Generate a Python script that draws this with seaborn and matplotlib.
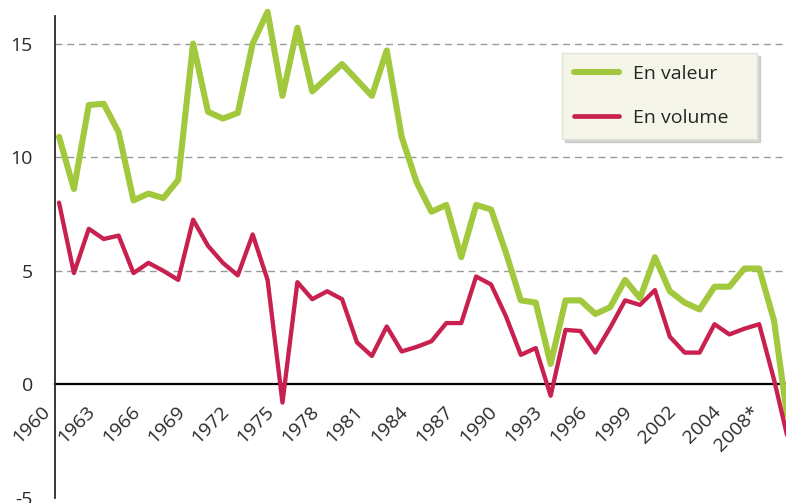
import matplotlib
matplotlib.use("Agg")
import matplotlib.pyplot as plt
import matplotlib.transforms as mtransforms
import seaborn as sns
import pandas as pd

years = list(range(1960, 2010))
valeur = [10.9, 8.6, 12.3, 12.35, 11.1, 8.1, 8.4, 8.2, 9.0, 15.0,
          12.0, 11.7, 11.95, 15.0, 16.4, 12.7, 15.7, 12.9, 13.5, 14.1,
          13.4, 12.7, 14.7, 10.9, 8.9, 7.6, 7.9, 5.6, 7.9, 7.7,
          5.8, 3.7, 3.6, 0.9, 3.7, 3.7, 3.1, 3.4, 4.6, 3.8,
          5.6, 4.1, 3.6, 3.3, 4.3, 4.3, 5.1, 5.1, 2.8, -2.0]
volume = [8.0, 4.9, 6.85, 6.4, 6.55, 4.9, 5.35, 5.0, 4.6, 7.25,
          6.1, 5.35, 4.8, 6.6, 4.6, -0.8, 4.5, 3.75, 4.1, 3.75,
          1.85, 1.25, 2.55, 1.45, 1.65, 1.9, 2.7, 2.7, 4.75, 4.4,
          3.0, 1.3, 1.6, -0.5, 2.4, 2.35, 1.4, 2.5, 3.7, 3.5,
          4.15, 2.1, 1.4, 1.4, 2.65, 2.2, 2.45, 2.65, 0.2, -2.6]

y_ticks = [-5, 0, 5, 10, 15]
# labels as printed on the original axis (the last two are irregular)
label_years = [1960, 1963, 1966, 1969, 1972, 1975, 1978, 1981, 1984, 1987,
               1990, 1993, 1996, 1999, 2002, 2005, 2007.6]
label_text = ["1960", "1963", "1966", "1969", "1972", "1975", "1978", "1981",
              "1984", "1987", "1990", "1993", "1996", "1999", "2002", "2004", "2008*"]

GREEN = "#a2c83e"
RED = "#c8204f"
INK = "#2a2a2a"

df_val = pd.DataFrame({"annee": years, "pct": valeur})
df_vol = pd.DataFrame({"annee": years, "pct": volume})

sns.set_style("white")
plt.rcParams['font.family'] = ['Open Sans', 'DejaVu Sans']

fig = plt.figure(figsize=(7.86, 5.03), dpi=100)
ax = fig.add_axes([55/786, 5/503, 731/786, 498/503])

# dashed grid only above zero
for v in y_ticks:
    if v > 0:
        ax.axhline(v, color="#9a9a9a", lw=1.0, ls=(0, (5, 3.5)), zorder=1)

sns.lineplot(data=df_val, x="annee", y="pct", color=GREEN, lw=4.4,
             label="En valeur", ax=ax, zorder=3)
sns.lineplot(data=df_vol, x="annee", y="pct", color=RED, lw=3.1,
             label="En volume", ax=ax, zorder=4)

ax.set_xlim(1959.73, 2008.8)
ax.set_ylim(-5, 16.92)
ax.set_xlabel("")
ax.set_ylabel("")

sns.despine(ax=ax)
ax.spines["bottom"].set_position(("data", 0))
ax.spines["bottom"].set_color("black")
ax.spines["bottom"].set_linewidth(1.6)
ax.spines["bottom"].set_zorder(2)
ax.spines["left"].set_color(INK)
ax.spines["left"].set_linewidth(1.3)
ax.spines["left"].set_bounds(-5, 16.2)

# x ticks: one per year, labels only where printed
ax.xaxis.remove_overlapping_locs = False
ax.set_xticks(list(range(1960, 2008)))
ax.set_xticklabels([""] * len(range(1960, 2008)))
ax.set_xticks(label_years, minor=True)
ax.set_xticklabels(label_text, minor=True)
ax.tick_params(axis="x", which="major", direction="out", length=12,
               width=1.3, color="#444444")
ax.tick_params(axis="x", which="minor", length=0, pad=13,
               labelsize=14, labelcolor=INK)
shift = mtransforms.ScaledTranslation(-0.05, 0, fig.dpi_scale_trans)
for lab in ax.get_xticklabels(minor=True):
    lab.set_rotation(45)
    lab.set_ha("right")
    lab.set_transform(lab.get_transform() + shift)

ax.set_yticks(y_ticks)
ax.set_yticklabels([str(v) for v in y_ticks], fontsize=14, color=INK)
ax.tick_params(axis="y", direction="out", length=12, width=1.3,
               color=INK, pad=4)

leg = ax.legend(loc="upper left", bbox_to_anchor=(0.694, 0.70, 0.266, 0.194),
                mode="expand", fontsize=14, frameon=True, fancybox=False,
                facecolor="#f5f5e9", edgecolor="#e2e2d6", framealpha=1,
                handlelength=2.27, handletextpad=0.72, labelspacing=1.34,
                borderpad=0.62, borderaxespad=0,
                shadow={"color": "#b8b8b8", "alpha": 0.6})
for line in leg.get_lines():
    line.set_linewidth(4.4 if line.get_color() == GREEN else 3.4)

fig.savefig("out.png", dpi=100, facecolor="white")
